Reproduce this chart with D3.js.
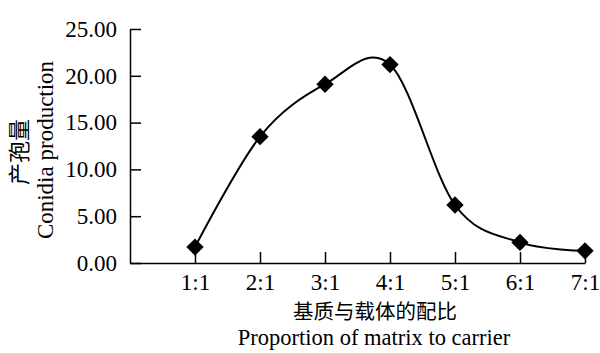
<!DOCTYPE html>
<html>
<head>
<meta charset="utf-8">
<script src="https://cdn.jsdelivr.net/npm/d3@7"></script>
<style>
  body { margin: 0; background: #fff; }
  .axis path, .axis line { stroke: #000; stroke-width: 1.5px; }
  .axis text { font-family: "Liberation Serif", "Times New Roman", serif; font-size: 23px; fill: #000; }
  .serif { font-family: "Liberation Serif", "Times New Roman", serif; font-size: 23px; fill: #000; }
  .cjk { font-family: "Noto Sans CJK SC", sans-serif; font-size: 22px; fill: #000; }
  .cjk-x { font-size: 20.5px; }
  .serif-x { font-size: 22.5px; }
</style>
</head>
<body>
<div class="chart"></div>
<script>
// data
var ratios = ["1:1", "2:1", "3:1", "4:1", "5:1", "6:1", "7:1"];
var conidia = [1.7, 13.5, 19.1, 21.2, 6.2, 2.2, 1.3];
var yTicks = [0, 5, 10, 15, 20, 25];

var svgWidth = 600;
var svgHeight = 353;

var margin = { top: 29, right: 15, bottom: 90, left: 130 };

var width = svgWidth - margin.left - margin.right;
var height = svgHeight - margin.top - margin.bottom;

var svg = d3.select(".chart")
  .append("svg")
  .attr("width", svgWidth)
  .attr("height", svgHeight);

var chartGroup = svg.append("g")
  .attr("transform", `translate(${margin.left}, ${margin.top})`);

var points = ratios.map(function(r, i) {
  return { label: r, pos: i + 1, value: conidia[i] };
});

// scales
var xScale = d3.scaleLinear()
  .domain([0, ratios.length])
  .range([0, width]);

var yScale = d3.scaleLinear()
  .domain([0, 25])
  .range([height, 0]);

// axes, ticks pointing inward
var bottomAxis = d3.axisBottom(xScale)
  .tickValues(points.map(d => d.pos))
  .tickFormat((d, i) => ratios[i])
  .tickSizeInner(-11)
  .tickSizeOuter(0)
  .tickPadding(11);

var leftAxis = d3.axisLeft(yScale)
  .tickValues(yTicks)
  .tickFormat(d3.format(".2f"))
  .tickSizeInner(-11)
  .tickSizeOuter(0)
  .tickPadding(13);

chartGroup.append("g")
  .attr("class", "axis")
  .attr("transform", `translate(0, ${height})`)
  .call(bottomAxis);

chartGroup.append("g")
  .attr("class", "axis")
  .call(leftAxis);

// smoothed line
var line = d3.line()
  .x(d => xScale(d.pos))
  .y(d => yScale(d.value))
  .curve(d3.curveCardinal.tension(0));

chartGroup.append("path")
  .datum(points)
  .attr("d", line)
  .attr("fill", "none")
  .attr("stroke", "#000")
  .attr("stroke-width", 2);

// diamond markers
chartGroup.selectAll(".marker")
  .data(points)
  .enter()
  .append("path")
  .attr("class", "marker")
  .attr("d", d3.symbol(d3.symbolSquare, 150))
  .attr("transform", d => `translate(${xScale(d.pos)}, ${yScale(d.value)}) rotate(45)`)
  .attr("fill", "#000");

// axis titles
svg.append("text")
  .attr("class", "cjk cjk-x")
  .attr("text-anchor", "middle")
  .attr("x", 375)
  .attr("y", 319)
  .text("基质与载体的配比");

svg.append("text")
  .attr("class", "serif serif-x")
  .attr("text-anchor", "middle")
  .attr("x", 374)
  .attr("y", 345)
  .text("Proportion of matrix to carrier");

svg.append("text")
  .attr("class", "cjk")
  .attr("text-anchor", "middle")
  .attr("transform", "translate(27, 152) rotate(-90)")
  .text("产孢量");

svg.append("text")
  .attr("class", "serif")
  .attr("text-anchor", "middle")
  .attr("transform", "translate(53, 150) rotate(-90)")
  .text("Conidia production");
</script>
</body>
</html>
